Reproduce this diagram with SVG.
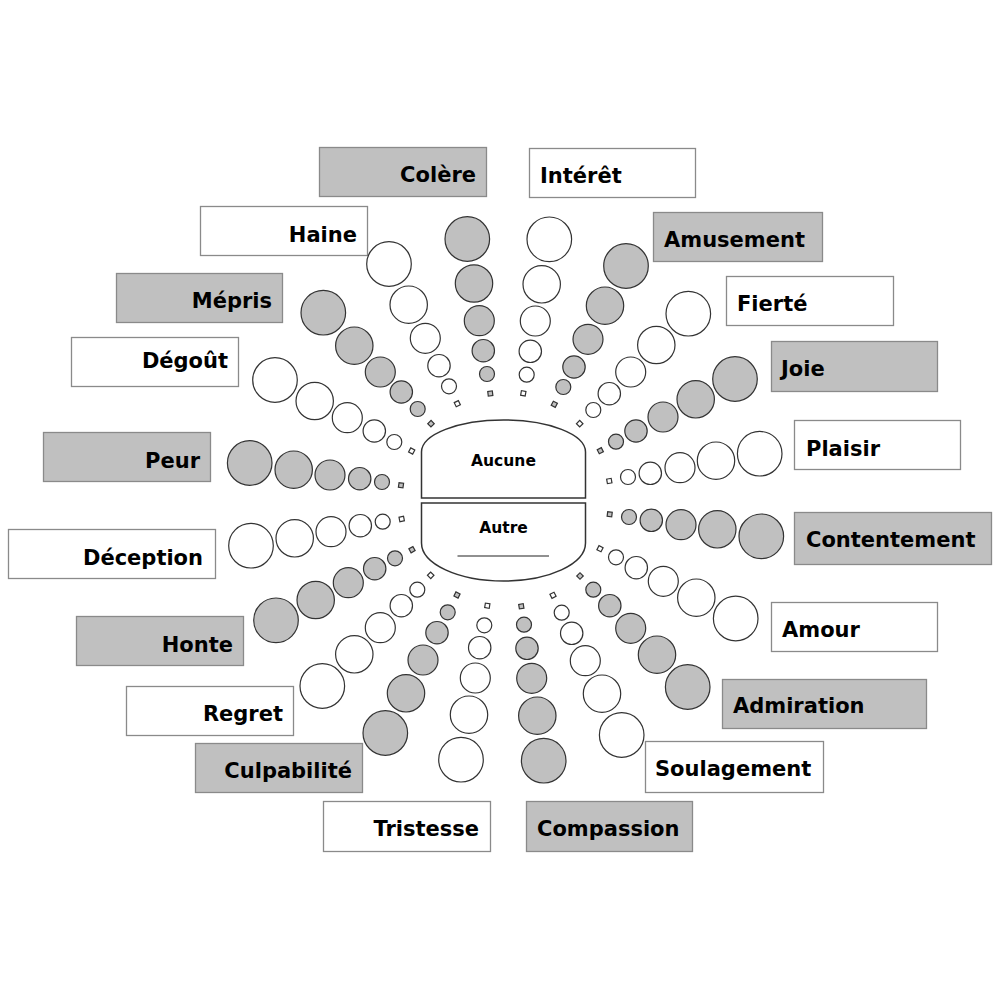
<svg xmlns="http://www.w3.org/2000/svg" width="1000" height="1000" viewBox="0 0 1000 1000">
<style>
.bx{stroke:#8a8a8a;stroke-width:1.3}
.g{fill:#c0c0c0}
.w{fill:#ffffff}
circle,.sq{stroke:#333;stroke-width:1.2}
.lbl{font-family:"DejaVu Sans","Verdana",sans-serif;font-weight:bold;font-size:21px;fill:#000}
.ctr{font-family:"DejaVu Sans","Verdana",sans-serif;font-weight:bold;font-size:15.5px;fill:#000;text-anchor:middle}
</style>
<defs>
<rect id="s" class="sq" x="-2.3" y="-2.3" width="4.6" height="4.6"/>
</defs>
<rect width="1000" height="1000" fill="#fff"/>

<g id="center">
<path d="M421.5,498 L421.5,452 A82,32 0 0 1 585.5,452 L585.5,498 Z" fill="#fff" stroke="#333" stroke-width="1.5"/>
<path d="M421.5,503 L585.5,503 L585.5,543 A82,38 0 0 1 421.5,543 Z" fill="#fff" stroke="#333" stroke-width="1.5"/>
<line x1="457.5" y1="556" x2="549" y2="556" stroke="#222" stroke-width="1.1"/>
<text class="ctr" x="503.5" y="466">Aucune</text>
<text class="ctr" x="503.5" y="533">Autre</text>
</g>

<g id="connectors"></g>

<g id="colere">
<rect class="bx g" x="319.5" y="147.5" width="167" height="49"/>
<text class="lbl" x="476" y="182" text-anchor="end">Colère</text>
<circle class="g" cx="467.3" cy="239" r="22.3"/><circle class="g" cx="474" cy="283.5" r="18.7"/><circle class="g" cx="479.3" cy="320.7" r="15"/><circle class="g" cx="483.3" cy="350.7" r="11.2"/><circle class="g" cx="487" cy="374" r="7.5"/>
<use href="#s" class="g" transform="translate(490.3,393.5) rotate(-97)"/>
</g>

<g id="interet">
<rect class="bx w" x="529.5" y="148.5" width="166" height="49"/>
<text class="lbl" x="540" y="183">Intérêt</text>
<circle class="w" cx="549.3" cy="239.3" r="22.3"/><circle class="w" cx="541.7" cy="284.3" r="18.7"/><circle class="w" cx="535.3" cy="321" r="15"/><circle class="w" cx="530.3" cy="351.3" r="11.2"/><circle class="w" cx="526.7" cy="374.7" r="7.5"/>
<use href="#s" class="w" transform="translate(523.3,393.3) rotate(-80)"/>
</g>

<g id="haine">
<rect class="bx w" x="200.5" y="206.5" width="167" height="49"/>
<text class="lbl" x="357" y="242" text-anchor="end">Haine</text>
<circle class="w" cx="389" cy="264" r="22.3"/><circle class="w" cx="408.7" cy="304.7" r="18.7"/><circle class="w" cx="425.3" cy="338.3" r="15"/><circle class="w" cx="439" cy="365.7" r="11.2"/><circle class="w" cx="449" cy="386.3" r="7.5"/>
<use href="#s" class="w" transform="translate(457.3,403.7) rotate(-116)"/>
</g>

<g id="amusement">
<rect class="bx g" x="653.5" y="212.5" width="169" height="49"/>
<text class="lbl" x="664" y="247">Amusement</text>
<circle class="g" cx="626" cy="266" r="22.3"/><circle class="g" cx="605" cy="305.7" r="18.7"/><circle class="g" cx="588" cy="339.3" r="15"/><circle class="g" cx="574" cy="367" r="11.2"/><circle class="g" cx="563.3" cy="387" r="7.5"/>
<use href="#s" class="g" transform="translate(554.3,404.3) rotate(-62)"/>
</g>

<g id="mepris">
<rect class="bx g" x="116.5" y="273.5" width="166" height="49"/>
<text class="lbl" x="272" y="308" text-anchor="end">Mépris</text>
<circle class="g" cx="323.3" cy="312.7" r="22.3"/><circle class="g" cx="354.3" cy="345.7" r="18.7"/><circle class="g" cx="380.3" cy="372" r="15"/><circle class="g" cx="401.3" cy="392" r="11.2"/><circle class="g" cx="417.7" cy="409" r="7.5"/>
<use href="#s" class="g" transform="translate(431,423.7) rotate(-134)"/>
</g>

<g id="fierte">
<rect class="bx w" x="726.5" y="276.5" width="167" height="49"/>
<text class="lbl" x="737" y="311">Fierté</text>
<circle class="w" cx="688.3" cy="313.7" r="22.3"/><circle class="w" cx="656.3" cy="345" r="18.7"/><circle class="w" cx="630.7" cy="372" r="15"/><circle class="w" cx="609.3" cy="393.7" r="11.2"/><circle class="w" cx="593.3" cy="410" r="7.5"/>
<use href="#s" class="w" transform="translate(579.7,423.7) rotate(-45)"/>
</g>

<g id="degout">
<rect class="bx w" x="71.5" y="337.5" width="167" height="49"/>
<text class="lbl" x="228" y="368" text-anchor="end">Dégoût</text>
<circle class="w" cx="275" cy="380" r="22.3"/><circle class="w" cx="314.7" cy="401" r="18.7"/><circle class="w" cx="347.3" cy="417.7" r="15"/><circle class="w" cx="374.3" cy="431" r="11.2"/><circle class="w" cx="394.3" cy="442" r="7.5"/>
<use href="#s" class="w" transform="translate(411.7,451) rotate(-152)"/>
</g>

<g id="joie">
<rect class="bx g" x="771.5" y="341.5" width="166" height="50"/>
<text class="lbl" x="781" y="376">Joie</text>
<circle class="g" cx="735" cy="379" r="22.3"/><circle class="g" cx="695.7" cy="399.3" r="18.7"/><circle class="g" cx="663" cy="417" r="15"/><circle class="g" cx="636" cy="431" r="11.2"/><circle class="g" cx="616" cy="441.7" r="7.5"/>
<use href="#s" class="g" transform="translate(600.3,450.7) rotate(-27)"/>
</g>

<g id="peur">
<rect class="bx g" x="43.5" y="432.5" width="167" height="49"/>
<text class="lbl" x="200" y="468" text-anchor="end">Peur</text>
<circle class="g" cx="249.7" cy="463" r="22.3"/><circle class="g" cx="293.7" cy="469.7" r="18.7"/><circle class="g" cx="330" cy="475" r="15"/><circle class="g" cx="359.7" cy="478.7" r="11.2"/><circle class="g" cx="382" cy="482" r="7.5"/>
<use href="#s" class="g" transform="translate(401,485.3) rotate(-172)"/>
</g>

<g id="plaisir">
<rect class="bx w" x="794.5" y="420.5" width="166" height="49"/>
<text class="lbl" x="806" y="456">Plaisir</text>
<circle class="w" cx="759.7" cy="453.7" r="22.3"/><circle class="w" cx="716" cy="460.7" r="18.7"/><circle class="w" cx="680" cy="467.7" r="15"/><circle class="w" cx="650.3" cy="473.3" r="11.2"/><circle class="w" cx="628" cy="477" r="7.5"/>
<use href="#s" class="w" transform="translate(609.3,481) rotate(-10)"/>
</g>

<g id="deception">
<rect class="bx w" x="8.5" y="529.5" width="207" height="49"/>
<text class="lbl" x="203" y="565" text-anchor="end">Déception</text>
<circle class="w" cx="251" cy="545.7" r="22.3"/><circle class="w" cx="294.7" cy="538.3" r="18.7"/><circle class="w" cx="331" cy="531.7" r="15"/><circle class="w" cx="360.3" cy="525.7" r="11.2"/><circle class="w" cx="382.7" cy="521.7" r="7.5"/>
<use href="#s" class="w" transform="translate(401.7,519) rotate(169)"/>
</g>

<g id="contentement">
<rect class="bx g" x="794.5" y="512.5" width="197" height="52"/>
<text class="lbl" x="806" y="547">Contentement</text>
<circle class="g" cx="761.3" cy="536.3" r="22.3"/><circle class="g" cx="717.3" cy="529.3" r="18.7"/><circle class="g" cx="681" cy="524.7" r="15"/><circle class="g" cx="651.3" cy="520.3" r="11.2"/><circle class="g" cx="629" cy="517" r="7.5"/>
<use href="#s" class="g" transform="translate(609.7,514.3) rotate(7)"/>
</g>

<g id="honte">
<rect class="bx g" x="76.5" y="616.5" width="167" height="49"/>
<text class="lbl" x="233" y="652" text-anchor="end">Honte</text>
<circle class="g" cx="276" cy="620.3" r="22.3"/><circle class="g" cx="315.7" cy="600" r="18.7"/><circle class="g" cx="348.3" cy="582.7" r="15"/><circle class="g" cx="374.7" cy="568.7" r="11.2"/><circle class="g" cx="395" cy="558.3" r="7.5"/>
<use href="#s" class="g" transform="translate(412,549.7) rotate(151)"/>
</g>

<g id="amour">
<rect class="bx w" x="771.5" y="602.5" width="166" height="49"/>
<text class="lbl" x="782" y="637">Amour</text>
<circle class="w" cx="735.7" cy="618.5" r="22.3"/><circle class="w" cx="696.3" cy="597.7" r="18.7"/><circle class="w" cx="663.3" cy="581.3" r="15"/><circle class="w" cx="636.3" cy="567.7" r="11.2"/><circle class="w" cx="616" cy="557.3" r="7.5"/>
<use href="#s" class="w" transform="translate(600,548.7) rotate(27)"/>
</g>

<g id="regret">
<rect class="bx w" x="126.5" y="686.5" width="167" height="49"/>
<text class="lbl" x="283" y="721" text-anchor="end">Regret</text>
<circle class="w" cx="322.3" cy="686" r="22.3"/><circle class="w" cx="354.3" cy="654.3" r="18.7"/><circle class="w" cx="380.3" cy="627.7" r="15"/><circle class="w" cx="401.3" cy="605.7" r="11.2"/><circle class="w" cx="417.3" cy="589.7" r="7.5"/>
<use href="#s" class="w" transform="translate(430.7,575.3) rotate(134)"/>
</g>

<g id="admiration">
<rect class="bx g" x="722.5" y="679.5" width="204" height="49"/>
<text class="lbl" x="733" y="713">Admiration</text>
<circle class="g" cx="687.7" cy="687" r="22.3"/><circle class="g" cx="657" cy="654.7" r="18.7"/><circle class="g" cx="630.7" cy="628.3" r="15"/><circle class="g" cx="609.8" cy="605.7" r="11.2"/><circle class="g" cx="593.3" cy="589.7" r="7.5"/>
<use href="#s" class="g" transform="translate(580,576) rotate(45)"/>
</g>

<g id="culpabilite">
<rect class="bx g" x="195.5" y="743.5" width="167" height="49"/>
<text class="lbl" x="352" y="778" text-anchor="end">Culpabilité</text>
<circle class="g" cx="385.3" cy="733" r="22.3"/><circle class="g" cx="406" cy="693.3" r="18.7"/><circle class="g" cx="423" cy="660" r="15"/><circle class="g" cx="437" cy="632.7" r="11.2"/><circle class="g" cx="447.7" cy="612.3" r="7.5"/>
<use href="#s" class="g" transform="translate(457,595) rotate(116)"/>
</g>

<g id="soulagement">
<rect class="bx w" x="645.5" y="741.5" width="178" height="51"/>
<text class="lbl" x="655" y="776">Soulagement</text>
<circle class="w" cx="621.7" cy="735" r="22.3"/><circle class="w" cx="602" cy="693.7" r="18.7"/><circle class="w" cx="585.3" cy="660.7" r="15"/><circle class="w" cx="571.7" cy="633.3" r="11.2"/><circle class="w" cx="561.7" cy="612.7" r="7.5"/>
<use href="#s" class="w" transform="translate(553,595.3) rotate(63)"/>
</g>

<g id="tristesse">
<rect class="bx w" x="323.5" y="801.5" width="167" height="50"/>
<text class="lbl" x="479" y="836" text-anchor="end">Tristesse</text>
<circle class="w" cx="461" cy="759.7" r="22.3"/><circle class="w" cx="469" cy="714.7" r="18.7"/><circle class="w" cx="475.3" cy="678" r="15"/><circle class="w" cx="479.7" cy="647.7" r="11.2"/><circle class="w" cx="484.3" cy="625.3" r="7.5"/>
<use href="#s" class="w" transform="translate(487.3,605.7) rotate(99)"/>
</g>

<g id="compassion">
<rect class="bx g" x="526.5" y="801.5" width="166" height="50"/>
<text class="lbl" x="537" y="836">Compassion</text>
<circle class="g" cx="543.7" cy="760.7" r="22.3"/><circle class="g" cx="537.3" cy="715.7" r="18.7"/><circle class="g" cx="531.7" cy="678.3" r="15"/><circle class="g" cx="527" cy="648.3" r="11.2"/><circle class="g" cx="524" cy="624.7" r="7.5"/>
<use href="#s" class="g" transform="translate(521.3,606.3) rotate(81)"/>
</g>
</svg>
